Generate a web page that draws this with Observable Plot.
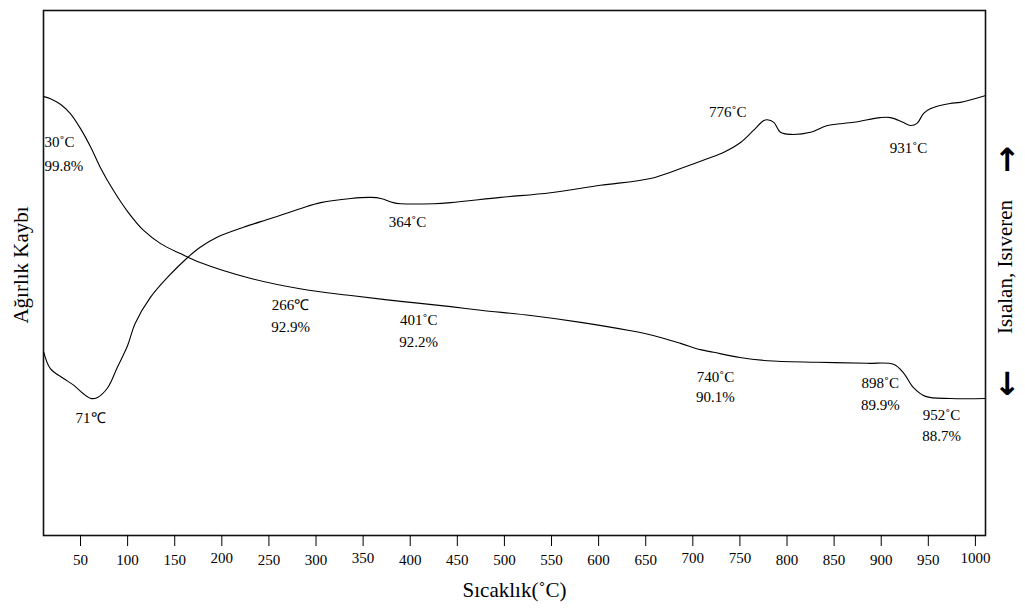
<!DOCTYPE html>
<html>
<head>
<meta charset="utf-8">
<script src="https://cdn.jsdelivr.net/npm/d3@7"></script>
<script src="https://cdn.jsdelivr.net/npm/@observablehq/plot@0.6"></script>
<style>
  html, body { margin: 0; padding: 0; background: #fff; }
  #chart { width: 1025px; height: 614px; overflow: hidden; }
</style>
</head>
<body>
<div id="chart"></div>
<script>
// Temperature ticks (°C); some labels sit slightly higher in the original
const xTicks = [50,100,150,200,250,300,350,400,450,500,550,600,650,700,750,800,850,900,950,1000];
const xTicksRaised = [200,350,700,750,1000];

// TG curve (weight loss), arbitrary vertical units
const tgTemp = [11,18,29,39,50,61,71,85,100,117,135,156,177,230,283,337,390,443,475,528,581,634,658,687,708,722,750,779,832,885,913,924,934,947,974,1011];
const tgVal  = [83.6,83.2,82.1,80.4,77.5,73.9,70.1,65.7,61.7,58.1,55.6,53.7,52.0,49.0,47.0,45.7,44.6,43.6,42.9,41.9,40.6,39.0,38.1,36.6,35.4,34.9,33.9,33.3,33.0,32.8,32.6,30.9,28.2,26.5,26.1,26.1];

// DTA curve (endo/exo), arbitrary vertical units
const dtaTemp = [11,18,32,43,53,61,68,79,89,100,108,124,142,164,177,195,223,252,284,305,337,358,369,382,390,425,443,496,549,602,655,687,716,733,751,764,775,779,786,793,804,825,843,871,899,910,923,931,938,945,952,973,984,1011];
const dtaVal  = [34.9,31.8,29.9,28.6,27.0,26.1,26.3,28.2,32.0,36.2,40.4,45.3,49.1,53.0,54.9,56.8,58.7,60.4,62.3,63.4,64.2,64.4,64.2,63.4,63.2,63.2,63.4,64.4,65.3,66.7,68.0,69.9,71.8,73.0,74.9,77.1,79.0,79.2,78.7,76.8,76.4,76.8,78.1,78.7,79.6,79.6,78.7,78.1,78.5,80.4,81.3,82.3,82.5,83.8];

// Annotations
const noteText  = ["30˚C","99.8%","776˚C","931˚C","364˚C","266℃","92.9%","401˚C","92.2%","71℃","740˚C","90.1%","898˚C","89.9%","952˚C","88.7%"];
const noteTemp  = [11.7,11.7,737,929,397,273,273,409,409,60.6,724,724,899,899,964,964];
const noteVal   = [74.9,70.3,80.6,73.7,59.6,43.8,39.6,41.0,36.8,22.3,30.1,26.3,29.0,24.8,22.9,18.9];

const xLabel = "Sıcaklık(˚C)";
const yLabelLeft = "Ağırlık Kaybı";
const yLabelRight = "Isıalan, Isıveren";

const tg = tgTemp.map((t, i) => ({t, v: tgVal[i]}));
const dta = dtaTemp.map((t, i) => ({t, v: dtaVal[i]}));
const notes = noteText.map((s, i) => ({s, t: noteTemp[i], v: noteVal[i], start: i < 2}));
const ticksNormal = xTicks.filter(d => !xTicksRaised.includes(d));

const chart = Plot.plot({
  width: 1025,
  height: 614,
  marginLeft: 43,
  marginRight: 40,
  marginTop: 10,
  marginBottom: 79,
  style: {fontFamily: "'Liberation Serif', 'Times New Roman', serif", fontSize: "15px", color: "#000", background: "#fff", overflow: "visible"},
  x: {domain: [10.7, 1010.7]},
  y: {domain: [0, 100], axis: null},
  marks: [
    Plot.frame({stroke: "#111", strokeWidth: 1.6}),
    Plot.axisX({ticks: ticksNormal, tickSize: 11, tickPadding: 8, label: null, tickFormat: d => String(d), fontSize: 15}),
    Plot.axisX({ticks: xTicksRaised, tickSize: 11, tickPadding: 6, label: null, tickFormat: d => String(d), fontSize: 15}),
    Plot.line(tg, {x: "t", y: "v", curve: "catmull-rom", stroke: "#000", strokeWidth: 1.1}),
    Plot.line(dta, {x: "t", y: "v", curve: "catmull-rom", stroke: "#000", strokeWidth: 1.1}),
    Plot.text(notes.filter(d => d.start), {x: "t", y: "v", text: "s", textAnchor: "start", fontSize: 15, fill: "#000"}),
    Plot.text(notes.filter(d => !d.start), {x: "t", y: "v", text: "s", fontSize: 15, fill: "#000"}),
    Plot.text([xLabel], {frameAnchor: "bottom", dy: 55, lineAnchor: "middle", textAnchor: "middle", text: d => d, fontSize: 21, fill: "#000"}),
    Plot.text([yLabelLeft], {frameAnchor: "left", dx: -22, dy: -8, rotate: -90, textAnchor: "middle", lineAnchor: "middle", text: d => d, fontSize: 21, fill: "#000"}),
    Plot.text([yLabelRight], {frameAnchor: "right", dx: 20, dy: -6, rotate: -90, textAnchor: "middle", lineAnchor: "middle", text: d => d, fontSize: 21, fill: "#000"}),
    Plot.text(["↑"], {frameAnchor: "right", dx: 22, dy: -112, textAnchor: "middle", lineAnchor: "middle", text: d => d, fontSize: 32, fontWeight: "bold", fontFamily: "DejaVu Sans", fill: "#000"}),
    Plot.text(["↓"], {frameAnchor: "right", dx: 22, dy: 112, textAnchor: "middle", lineAnchor: "middle", text: d => d, fontSize: 32, fontWeight: "bold", fontFamily: "DejaVu Sans", fill: "#000"})
  ]
});
document.getElementById("chart").appendChild(chart);
</script>
</body>
</html>
